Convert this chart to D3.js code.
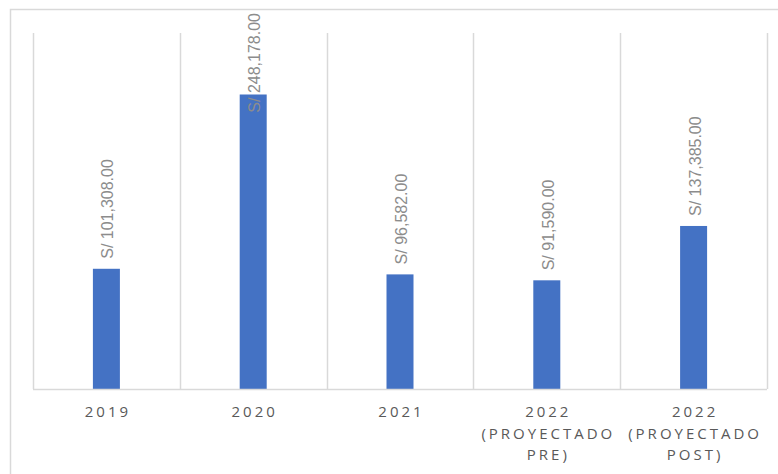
<!DOCTYPE html>
<html>
<head>
<meta charset="utf-8">
<script src="https://cdn.jsdelivr.net/npm/d3@7"></script>
<style>
  body { margin: 0; background: #fff; }
  svg { display: block; }
</style>
</head>
<body>
<div class="container"></div>
<script>
const WIDTH = 778;
const HEIGHT = 474;

// data
var categories = ['2019', '2020', '2021', '2022 (PROYECTADO PRE)', '2022 (PROYECTADO POST)'];
var categoryLines = [['2019'], ['2020'], ['2021'], ['2022', '(PROYECTADO', 'PRE)'], ['2022', '(PROYECTADO', 'POST)']];
var values = [101308, 248178, 96582, 91590, 137385];
var axisMax = 300000;

var PLOT = {left: 33, right: 767, top: 33, bottom: 389};

var _xScale = d3.scaleBand()
    .domain(categories)
    .range([PLOT.left, PLOT.right])
    .paddingInner(0)
    .paddingOuter(0);

var _yScale = d3.scaleLinear()
    .domain([0, axisMax])
    .range([PLOT.bottom, PLOT.top]);

var fmt = function (v) {
    return 'S/ ' + d3.format(',.2f')(v);
};

var _svg = d3.select('.container').append('svg')
    .attr('width', WIDTH)
    .attr('height', HEIGHT);

// outer chart border (right and bottom fall outside the crop)
_svg.append('path')
    .attr('d', 'M10.5,' + HEIGHT + 'V9.5H' + WIDTH)
    .attr('fill', 'none')
    .attr('stroke', '#d9d9d9')
    .attr('stroke-width', 1.5);

// vertical category gridlines
var edges = categories.map(function (c) { return _xScale(c); }).concat([PLOT.right]);
_svg.append('g').selectAll('line')
    .data(edges)
    .enter().append('line')
    .attr('x1', function (d) { return Math.round(d) + 0.5; })
    .attr('x2', function (d) { return Math.round(d) + 0.5; })
    .attr('y1', PLOT.top)
    .attr('y2', PLOT.bottom)
    .attr('stroke', '#d9d9d9')
    .attr('stroke-width', 1.5);

// bars
var barW = 27;
_svg.append('g').selectAll('rect')
    .data(values)
    .enter().append('rect')
    .attr('x', function (d, i) { return _xScale(categories[i]) + _xScale.bandwidth() / 2 - barW / 2; })
    .attr('y', function (d) { return _yScale(d); })
    .attr('width', barW)
    .attr('height', function (d) { return PLOT.bottom - _yScale(d); })
    .attr('fill', '#4472c4');

// baseline
_svg.append('line')
    .attr('x1', PLOT.left)
    .attr('x2', PLOT.right)
    .attr('y1', PLOT.bottom + 0.5)
    .attr('y2', PLOT.bottom + 0.5)
    .attr('stroke', '#d9d9d9')
    .attr('stroke-width', 1.5);

// rotated value labels
var labels = _svg.append('g').selectAll('text')
    .data(values)
    .enter().append('text')
    .attr('font-family', '"Liberation Sans", Arial, sans-serif')
    .attr('font-size', '16px')
    .attr('fill', '#8c8c8c')
    .text(fmt);

labels.each(function (d, i) {
    var len = this.getComputedTextLength();
    var cx = _xScale(categories[i]) + _xScale.bandwidth() / 2 + 7;
    var startY = Math.max(_yScale(d) - 10, 13 + len);
    d3.select(this).attr('transform', 'translate(' + cx + ',' + startY + ') rotate(-90)');
});

// category labels
var xLabels = _svg.append('g').selectAll('text')
    .data(categoryLines)
    .enter().append('text')
    .attr('x', function (d, i) { return _xScale(categories[i]) + _xScale.bandwidth() / 2; })
    .attr('y', 417)
    .attr('text-anchor', 'middle')
    .attr('font-family', '"Open Sans", "Liberation Sans", sans-serif')
    .attr('font-size', '15px')
    .attr('letter-spacing', '3px')
    .attr('fill', '#595959');

xLabels.selectAll('tspan')
    .data(function (d) { return d; })
    .enter().append('tspan')
    .attr('x', function () { return this.parentNode.getAttribute('x'); })
    .attr('dx', '1.5px')
    .attr('dy', function (d, j) { return j === 0 ? 0 : 21.5; })
    .text(function (d) { return d; });
</script>
</body>
</html>
